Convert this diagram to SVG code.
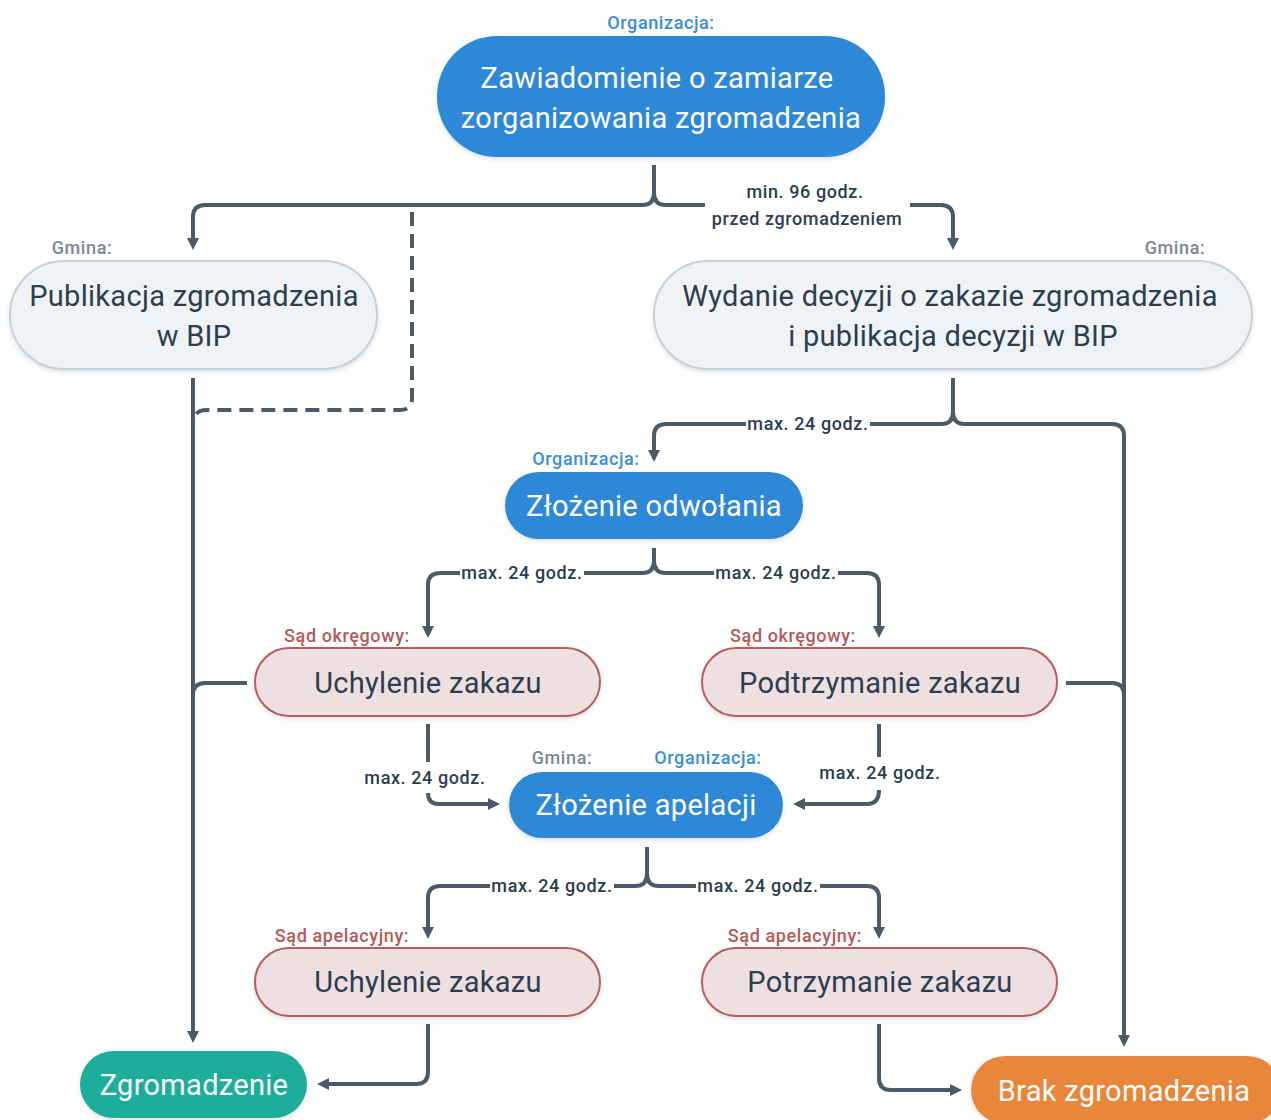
<svg xmlns="http://www.w3.org/2000/svg" width="1271" height="1120" viewBox="0 0 1271 1120">
<defs>
<marker id="arr" viewBox="0 0 12 12" markerWidth="12" markerHeight="12" markerUnits="userSpaceOnUse" refX="2" refY="6" orient="auto"><path d="M0,0 L12,6 L0,12 z" fill="#4B5B6A"/></marker>
<filter id="sh" x="-10%" y="-20%" width="120%" height="150%"><feDropShadow dx="0" dy="2" stdDeviation="2" flood-color="#000" flood-opacity="0.12"/></filter>
</defs>
<style>
text{font-family:Roboto,"Liberation Sans",sans-serif;text-anchor:middle}
.blue{fill:#2E88D8}
.gray{fill:#EFF3F6;stroke:#C5D1DB;stroke-width:2}
.red{fill:#EEE0E1;stroke:#B65E5E;stroke-width:2}
.teal{fill:#1AAE9A}
.orange{fill:#E8873A}
.n{filter:url(#sh)}
.tw{fill:#fff;font-size:29px;letter-spacing:0.3px}
.td{fill:#2C3E50;font-size:29px;letter-spacing:0.3px}
.lb{fill:#3A8EDB;font-size:18px;font-weight:500;letter-spacing:0.6px}
.lg{fill:#7B8794;font-size:18px;font-weight:500;letter-spacing:0.6px}
.lr{fill:#B35A5A;font-size:18px;font-weight:500;letter-spacing:0.6px}
.el{fill:#2C3E50;font-size:18px;font-weight:500;letter-spacing:0.6px}
.c{fill:none;stroke:#4B5B6A;stroke-width:4}
.a{marker-end:url(#arr)}
.d{stroke-dasharray:14 8}
</style>
<rect width="1271" height="1120" fill="#fff"/>
<g id="connectors">
<path class="c a" d="M654,165 V193 Q654,205 642,205 H205 Q193,205 193,217 V240"/>
<path class="c" d="M654,193 Q654,205 666,205 H705"/>
<path class="c a" d="M910,205 H941 Q953,205 953,217 V240"/>
<path class="c d" d="M412,212 V398 Q412,410 400,410 H207 Q193,410 193,424"/>
<path class="c a" d="M193,378 V1033"/>
<path class="c" d="M953,378 V412 Q953,424 941,424 H870"/>
<path class="c a" d="M746,424 H666 Q654,424 654,436 V452"/>
<path class="c a" d="M953,412 Q953,424 965,424 H1112 Q1124,424 1124,436 V1037"/>
<path class="c" d="M654,548 V561 Q654,573 642,573 H584"/>
<path class="c a" d="M460,573 H440 Q428,573 428,585 V628"/>
<path class="c" d="M654,561 Q654,573 666,573 H714"/>
<path class="c a" d="M838,573 H867 Q879,573 879,585 V628"/>
<path class="c" d="M247,683 H205 Q193,683 193,695"/>
<path class="c" d="M1066,683 H1112 Q1124,683 1124,695"/>
<path class="c" d="M428,724 V762"/>
<path class="c a" d="M428,793 Q428,804 439,804 H490"/>
<path class="c" d="M879,724 V757"/>
<path class="c a" d="M879,790 Q879,804 867,804 H803"/>
<path class="c" d="M647,847 V874 Q647,886 635,886 H614"/>
<path class="c a" d="M490,886 H440 Q428,886 428,898 V929"/>
<path class="c" d="M647,874 Q647,886 659,886 H696"/>
<path class="c a" d="M820,886 H867 Q879,886 879,898 V929"/>
<path class="c a" d="M428,1024 V1072 Q428,1084 416,1084 H327"/>
<path class="c a" d="M879,1024 V1078 Q879,1090 891,1090 H952"/>
<text class="el" x="805" y="198">min. 96 godz.</text>
<text class="el" x="807" y="225">przed zgromadzeniem</text>
<text class="el" x="808" y="430">max. 24 godz.</text>
<text class="el" x="522" y="579">max. 24 godz.</text>
<text class="el" x="776" y="579">max. 24 godz.</text>
<text class="el" x="425" y="784">max. 24 godz.</text>
<text class="el" x="880" y="779">max. 24 godz.</text>
<text class="el" x="552" y="892">max. 24 godz.</text>
<text class="el" x="758" y="892">max. 24 godz.</text>
</g>
<g id="n-zawiadomienie">
<text class="lb" x="661" y="29">Organizacja:</text>
<rect class="blue n" x="437" y="36" width="448" height="121" rx="60"/>
<text class="tw" x="657" y="88">Zawiadomienie o zamiarze</text>
<text class="tw" x="661" y="128">zorganizowania zgromadzenia</text>
</g>
<g id="n-publikacja">
<text class="lg" x="82" y="254">Gmina:</text>
<rect class="gray n" x="10" y="261" width="367" height="108" rx="54"/>
<text class="td" x="194" y="306">Publikacja zgromadzenia</text>
<text class="td" x="194" y="346">w BIP</text>
</g>
<g id="n-wydanie">
<text class="lg" x="1175" y="254">Gmina:</text>
<rect class="gray n" x="654" y="261" width="598" height="108" rx="54"/>
<text class="td" x="950" y="306">Wydanie decyzji o zakazie zgromadzenia</text>
<text class="td" x="953" y="346">i publikacja decyzji w BIP</text>
</g>
<g id="n-odwolanie">
<text class="lb" x="586" y="465">Organizacja:</text>
<rect class="blue n" x="505" y="472" width="298" height="67" rx="33.5"/>
<text class="tw" x="654" y="516">Złożenie odwołania</text>
</g>
<g id="n-uchylenie-so">
<text class="lr" x="347" y="642">Sąd okręgowy:</text>
<rect class="red n" x="255" y="648" width="345" height="68" rx="34"/>
<text class="td" x="428" y="693">Uchylenie zakazu</text>
</g>
<g id="n-podtrzymanie-so">
<text class="lr" x="793" y="642">Sąd okręgowy:</text>
<rect class="red n" x="702" y="648" width="355" height="68" rx="34"/>
<text class="td" x="880" y="693">Podtrzymanie zakazu</text>
</g>
<g id="n-apelacja">
<text class="lg" x="562" y="764">Gmina:</text>
<text class="lb" x="708" y="764">Organizacja:</text>
<rect class="blue n" x="509" y="772" width="274" height="66" rx="33"/>
<text class="tw" x="646" y="815">Złożenie apelacji</text>
</g>
<g id="n-uchylenie-sa">
<text class="lr" x="342" y="942">Sąd apelacyjny:</text>
<rect class="red n" x="255" y="948" width="345" height="68" rx="34"/>
<text class="td" x="428" y="992">Uchylenie zakazu</text>
</g>
<g id="n-potrzymanie-sa">
<text class="lr" x="795" y="942">Sąd apelacyjny:</text>
<rect class="red n" x="702" y="948" width="355" height="68" rx="34"/>
<text class="td" x="880" y="992">Potrzymanie zakazu</text>
</g>
<g id="n-zgromadzenie">
<rect class="teal n" x="80" y="1051" width="227" height="67" rx="33.5"/>
<text class="tw" x="194" y="1095">Zgromadzenie</text>
</g>
<g id="n-brak">
<rect class="orange n" x="971" y="1056" width="310" height="68" rx="34"/>
<text class="tw" x="1124" y="1101">Brak zgromadzenia</text>
</g>
</svg>
